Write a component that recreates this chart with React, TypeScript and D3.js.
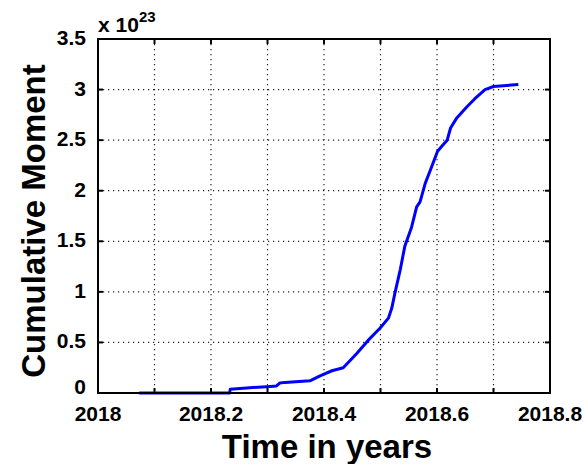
import React from "react";
import * as d3 from "d3";

const years = [
  2018.073, 2018.233, 2018.234, 2018.263, 2018.305, 2018.316, 2018.322, 2018.331,
  2018.375, 2018.393, 2018.414, 2018.434, 2018.458, 2018.478, 2018.499, 2018.514,
  2018.52, 2018.526, 2018.535, 2018.543, 2018.555, 2018.564, 2018.57, 2018.579,
  2018.588, 2018.601, 2018.61, 2018.618, 2018.624, 2018.635, 2018.653, 2018.667,
  2018.685, 2018.7, 2018.744,
];
const moment = [
  0, 0, 0.036, 0.05, 0.065, 0.07, 0.1, 0.105,
  0.12, 0.17, 0.22, 0.25, 0.39, 0.52, 0.64, 0.74,
  0.84, 1.0, 1.22, 1.45, 1.64, 1.84, 1.89, 2.07,
  2.2, 2.39, 2.45, 2.5, 2.62, 2.72, 2.83, 2.91,
  3.0, 3.03, 3.05,
];
const xGridTicks = [2018, 2018.1, 2018.2, 2018.3, 2018.4, 2018.5, 2018.6, 2018.7, 2018.8];
const xLabelTicks = [2018, 2018.2, 2018.4, 2018.6, 2018.8];
const yTicks = [0, 0.5, 1, 1.5, 2, 2.5, 3, 3.5];

const W = 585, H = 464;
const L = 98, R = 550, T = 39, B = 393;

export default function App() {
  const x = d3.scaleLinear().domain([2018, 2018.8]).range([L, R]);
  const y = d3.scaleLinear().domain([0, 3.5]).range([B, T]);
  const pts = years.map((t, i) => [t, moment[i]] as [number, number]);
  const line = d3.line<[number, number]>().x(d => x(d[0])).y(d => y(d[1]));
  const font = "'Liberation Sans', Arial, sans-serif";
  const tk = 5;
  return (
    <svg width={W} height={H} style={{ position: "absolute", left: 0, top: 0, background: "#fff" }}
      fontFamily={font} fontWeight="bold">
      <rect x={0} y={0} width={W} height={H} fill="#fff" />
      {xGridTicks.slice(1, -1).map(t => (
        <line key={"gx" + t} x1={x(t)} x2={x(t)} y1={T} y2={B} stroke="#222" strokeWidth={1.2}
          strokeDasharray="1.2,3.8" />
      ))}
      {yTicks.slice(1, -1).map(v => (
        <line key={"gy" + v} x1={L} x2={R} y1={y(v)} y2={y(v)} stroke="#222" strokeWidth={1.2}
          strokeDasharray="1.2,3.8" />
      ))}
      {xGridTicks.map(t => (
        <g key={"tx" + t}>
          <line x1={x(t)} x2={x(t)} y1={B} y2={B - tk} stroke="#000" strokeWidth={2} />
          <line x1={x(t)} x2={x(t)} y1={T} y2={T + tk} stroke="#000" strokeWidth={2} />
        </g>
      ))}
      {yTicks.map(v => (
        <g key={"ty" + v}>
          <line x1={L} x2={L + tk} y1={y(v)} y2={y(v)} stroke="#000" strokeWidth={2} />
          <line x1={R} x2={R - tk} y1={y(v)} y2={y(v)} stroke="#000" strokeWidth={2} />
        </g>
      ))}
      <path d={line(pts) || ""} fill="none" stroke="#0000ff" strokeWidth={3} strokeLinejoin="round" />
      <rect x={L} y={T} width={R - L} height={B - T} fill="none" stroke="#000" strokeWidth={2} />
      {xLabelTicks.map(t => (
        <text key={"lx" + t} x={x(t)} y={421} textAnchor="middle" fontSize={21}>
          {d3.format("")(t)}
        </text>
      ))}
      {yTicks.map(v => (
        <text key={"ly" + v} x={L - 12} y={v === 0 ? y(v) + 1 : y(v) + 6} textAnchor="end" fontSize={21}>
          {String(v)}
        </text>
      ))}
      <text x={L} y={32} fontSize={21}>
        x 10<tspan fontSize={15} dy={-10}>23</tspan>
      </text>
      <text x={(L + R) / 2 + 3} y={458} textAnchor="middle" fontSize={33}>Time in years</text>
      <text transform={`translate(45,221) rotate(-90)`} textAnchor="middle" fontSize={33}>
        Cumulative Moment
      </text>
    </svg>
  );
}
